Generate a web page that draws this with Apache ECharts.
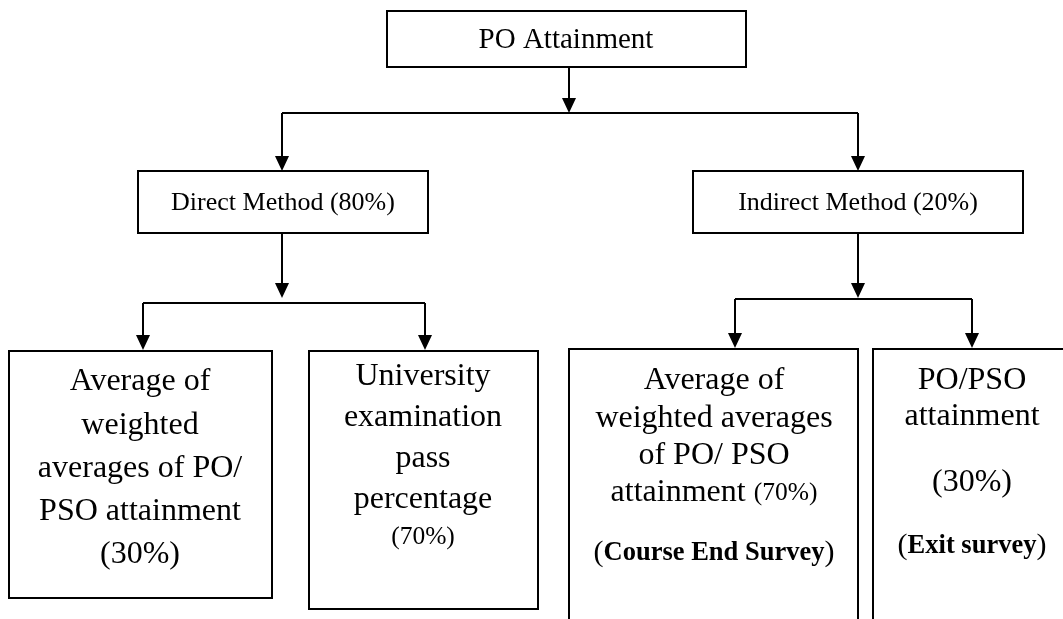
<!DOCTYPE html>
<html><head><meta charset="utf-8">
<script src="https://cdn.jsdelivr.net/npm/echarts@6/dist/echarts.min.js"></script>
<style>html,body{margin:0;padding:0;background:#fff}#c{width:1063px;height:619px}</style>
</head><body><div id="c"></div>
<script>
// ---- content ----
const rootLabel = 'PO Attainment';
const methodLabels = ['Direct Method (80%)', 'Indirect Method (20%)'];
const directLeaf1 = ['Average of', 'weighted', 'averages of PO/', 'PSO attainment', '(30%)'];
const directLeaf2 = ['University', 'examination', 'pass', 'percentage', '{s|(70%)}'];
const indirectLeaf1 = ['Average of', 'weighted averages', 'of PO/ PSO', 'attainment {s|(70%)}', '{p|(}{b|Course End Survey}{p|)}'];
const indirectLeaf2 = ['PO/PSO', 'attainment', '(30%)', '{p|(}{b|Exit survey}{p|)}'];

// ---- layout ----
const FONT = "'Liberation Serif', 'Times New Roman', serif";
const W = 2, C = '#000';
const g = [];
function box(x1, y1, x2, y2) {
  g.push({type: 'rect', shape: {x: x1, y: y1, width: x2 - x1, height: y2 - y1},
    style: {fill: '#fff', stroke: C, lineWidth: W}});
}
function line(pts) {
  g.push({type: 'polyline', shape: {points: pts}, style: {stroke: C, lineWidth: W, fill: null}});
}
function arrow(x, y1, y2) {
  const h = 15, hw = 7;
  line([[x, y1], [x, y2 - h + 1]]);
  g.push({type: 'polygon', shape: {points: [[x - hw, y2 - h], [x + hw, y2 - h], [x, y2]]},
    style: {fill: C, stroke: null}});
}
const rich = {
  s: {fontFamily: FONT, fontSize: 25.5, fill: C},
  p: {fontFamily: FONT, fontSize: 30, fill: C},
  b: {fontFamily: FONT, fontSize: 26.5, fontWeight: 'bold', fill: C}
};
function text(str, x, y, size) {
  g.push({type: 'text', x: x, y: y, z: 10,
    style: {text: str, fontFamily: FONT, fontSize: size, fill: C, align: 'center',
      verticalAlign: 'middle', rich: rich}});
}

// root
box(387, 11, 746, 67);
text(rootLabel, 566, 40, 29);
arrow(569, 67, 113);
line([[282, 113], [858, 113]]);
arrow(282, 113, 171);
arrow(858, 113, 171);

// methods
box(138, 171, 428, 233);
text(methodLabels[0], 283, 203, 26);
box(693, 171, 1023, 233);
text(methodLabels[1], 858, 203, 26);

// direct branch
arrow(282, 233, 298);
line([[143, 303], [425, 303]]);
arrow(143, 303, 350);
arrow(425, 303, 350);

// indirect branch
arrow(858, 233, 298);
line([[735, 299], [972, 299]]);
arrow(735, 299, 348);
arrow(972, 299, 348);

// leaves
box(9, 351, 272, 598);
[382, 426, 469, 512, 555].forEach((y, i) => text(directLeaf1[i], 140, y, 32));
box(309, 351, 538, 609);
[377, 418, 459, 500, 537].forEach((y, i) => text(directLeaf2[i], 423, y, 32));
box(569, 349, 858, 640);
[381, 419, 456, 493, 553].forEach((y, i) => text(indirectLeaf1[i], 714, y, 32));
box(873, 349, 1090, 640);
[381, 417, 483, 546].forEach((y, i) => text(indirectLeaf2[i], 972, y, 32));

const chart = echarts.init(document.getElementById('c'));
chart.setOption({backgroundColor: '#fff', animation: false, graphic: {elements: g}});
</script></body></html>
